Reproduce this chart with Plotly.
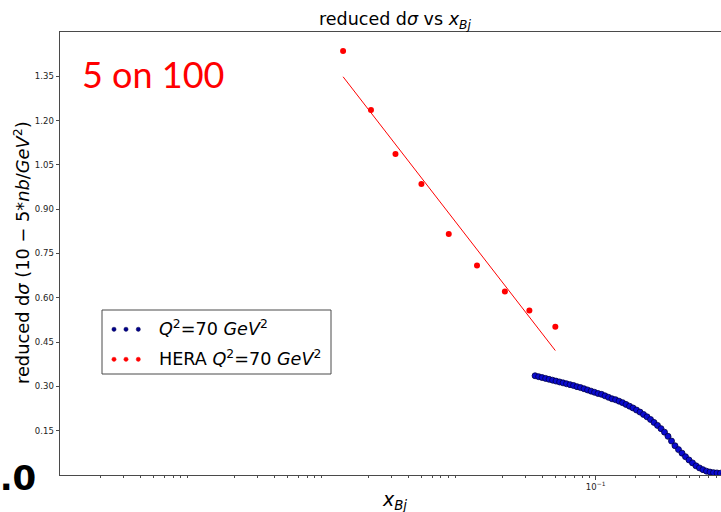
import numpy as np
import plotly.graph_objects as go

# ---------------- data ----------------
model_x = [0.0353, 0.0375, 0.0398, 0.0423, 0.0449, 0.0477, 0.0506, 0.0538, 0.0571, 0.0606,
           0.0644, 0.0684, 0.0726, 0.0771, 0.0819, 0.0870, 0.0924, 0.0981, 0.1042, 0.1107,
           0.1175, 0.1248, 0.1326, 0.1408, 0.1495, 0.1588, 0.1686, 0.1791, 0.1901, 0.2019,
           0.2145, 0.2278, 0.2418, 0.2569, 0.2728, 0.2896, 0.3076, 0.3267, 0.3470, 0.3685,
           0.3913, 0.4156, 0.4414, 0.4688, 0.4978, 0.5286, 0.5615, 0.5962, 0.6332, 0.6724,
           0.7141, 0.7585, 0.8053, 0.8551, 0.9082, 0.9645]
model_y = [0.336, 0.333, 0.330, 0.327, 0.324, 0.321, 0.318, 0.315, 0.312, 0.309,
           0.306, 0.303, 0.299, 0.296, 0.292, 0.288, 0.284, 0.280, 0.276, 0.273,
           0.268, 0.263, 0.258, 0.255, 0.250, 0.245, 0.239, 0.233, 0.227, 0.220,
           0.213, 0.205, 0.197, 0.188, 0.178, 0.168, 0.157, 0.145, 0.131, 0.115,
           0.099, 0.086, 0.074, 0.062, 0.051, 0.041, 0.031, 0.024, 0.018, 0.013,
           0.010, 0.008, 0.007, 0.006, 0.005, 0.004]

hera_x = [0.0013, 0.0021, 0.0032, 0.005, 0.008, 0.013, 0.021, 0.032, 0.05]
hera_y = [1.436, 1.236, 1.087, 0.985, 0.816, 0.709, 0.621, 0.557, 0.502]

y_tick_vals = [0.15, 0.30, 0.45, 0.60, 0.75, 0.90, 1.05, 1.20, 1.35]
y_tick_text = ["0.15", "0.30", "0.45", "0.60", "0.75", "0.90", "1.05", "1.20", "1.35"]
x_tick_vals = [0.1]
x_tick_text = ["10<sup>\u22121</sup>"]
x_minor_vals = [k * 10.0 ** d for d in range(-5, 0) for k in range(2, 10)]

legend_labels = ["<i>Q</i><sup>2</sup>=70 <i>GeV</i><sup>2</sup>",
                 "HERA <i>Q</i><sup>2</sup>=70 <i>GeV</i><sup>2</sup>"]

# linear fit of HERA points in log10(x)
slope, icpt = np.polyfit(np.log10(hera_x), hera_y, 1)
fit_x = [min(hera_x), max(hera_x)]
fit_y = [slope * np.log10(v) + icpt for v in fit_x]

# ---------------- figure ----------------
W, H = 721, 512
L, R, T, B = 60, 0, 32, 37
pw, ph = W - L - R, H - T - B

def px(xp):
    return (xp - L) / pw

def py(yp):
    return (H - B - yp) / ph

BLUE = "#0a0ad0"
BLUE_EDGE = "#000045"
RED = "#ff0000"

fig = go.Figure()
fig.add_trace(go.Scatter(x=fit_x, y=fit_y, mode="lines",
                         line=dict(color=RED, width=1), showlegend=False))
fig.add_trace(go.Scatter(x=model_x, y=model_y, mode="markers",
                         marker=dict(size=6, color=BLUE, line=dict(color=BLUE_EDGE, width=0.8)),
                         name="model", showlegend=False))
fig.add_trace(go.Scatter(x=hera_x, y=hera_y, mode="markers",
                         marker=dict(size=6, color=RED), name="HERA", showlegend=False))

axis_col = "#4a4a4a"
tick_font = dict(family="DejaVu Sans", size=8.5, color="#222")

fig.update_xaxes(type="log", range=[-5, np.log10(0.8631)],
                 showline=True, linecolor=axis_col, linewidth=1, mirror=True,
                 showgrid=False, zeroline=False,
                 tickmode="array", tickvals=x_tick_vals, ticktext=x_tick_text,
                 ticks="outside", ticklen=3.5, tickcolor=axis_col, tickwidth=0.8,
                 tickfont=tick_font,
                 minor=dict(tickmode="array", tickvals=x_minor_vals, ticks="outside",
                            ticklen=2, tickcolor=axis_col, tickwidth=0.6, showgrid=False))
fig.update_yaxes(range=[0, 1.5],
                 showline=True, linecolor=axis_col, linewidth=1, mirror=False,
                 showgrid=False, zeroline=False,
                 tickmode="array", tickvals=y_tick_vals, ticktext=y_tick_text,
                 ticks="outside", ticklen=3.5, tickcolor=axis_col, tickwidth=0.8,
                 tickfont=tick_font)

shapes = []
# legend frame
shapes.append(dict(type="rect", xref="paper", yref="paper",
                   x0=px(102), x1=px(331), y0=py(374), y1=py(310),
                   line=dict(color=axis_col, width=1), fillcolor="white", layer="above"))
dot_cols = [("#00008b", "#000050"), (RED, RED)]
rows_y = [329.3, 359.3]
for (fc, ec), ry in zip(dot_cols, rows_y):
    for dx in [114, 126, 138.3]:
        shapes.append(dict(type="circle", xref="paper", yref="paper",
                           xsizemode="pixel", ysizemode="pixel",
                           xanchor=px(dx), yanchor=py(ry),
                           x0=-2.1, x1=2.1, y0=-2.1, y1=2.1,
                           fillcolor=fc, line=dict(color=ec, width=0.5), layer="above"))

annotations = []
for lab, ry in zip(legend_labels, rows_y):
    annotations.append(dict(xref="paper", yref="paper", x=px(157), y=py(ry - 1),
                            xanchor="left", yanchor="middle", showarrow=False,
                            text=lab, font=dict(family="DejaVu Sans", size=17.6, color="black")))

# title
annotations.append(dict(xref="paper", yref="paper", x=px(395), y=py(20.5),
                        xanchor="center", yanchor="middle", showarrow=False,
                        text="reduced d<i>\u03c3</i> vs <i>x</i><sub><i>Bj</i></sub>",
                        font=dict(family="DejaVu Sans", size=17.5, color="black")))
# x label
annotations.append(dict(xref="paper", yref="paper", x=px(395), y=py(500),
                        xanchor="center", yanchor="middle", showarrow=False,
                        text="<i>x</i><sub><i>Bj</i></sub>",
                        font=dict(family="DejaVu Sans", size=19, color="black")))
# y label
annotations.append(dict(xref="paper", yref="paper", x=px(21), y=py(253),
                        xanchor="center", yanchor="middle", showarrow=False, textangle=-90,
                        text="reduced d<i>\u03c3</i> (10 \u2212 5*<i>nb</i>/<i>GeV</i><sup>2</sup>)",
                        font=dict(family="DejaVu Sans", size=17.8, color="black")))
# "5 on 100"
annotations.append(dict(xref="paper", yref="paper", x=px(80), y=py(74),
                        xanchor="left", yanchor="middle", showarrow=False,
                        text="5 on 100",
                        font=dict(family="Lato", size=36, color=RED)))
# stray "1.0" from neighbouring panel
annotations.append(dict(xref="paper", yref="paper", x=px(38), y=py(478),
                        xanchor="right", yanchor="middle", showarrow=False,
                        text="<b>1.0</b>",
                        font=dict(family="DejaVu Sans", size=34, color="black")))

fig.update_layout(width=W, height=H, margin=dict(l=L, r=R, t=T, b=B, autoexpand=False),
                  paper_bgcolor="white", plot_bgcolor="white",
                  shapes=shapes, annotations=annotations, showlegend=False)

fig.write_html("out.html")
